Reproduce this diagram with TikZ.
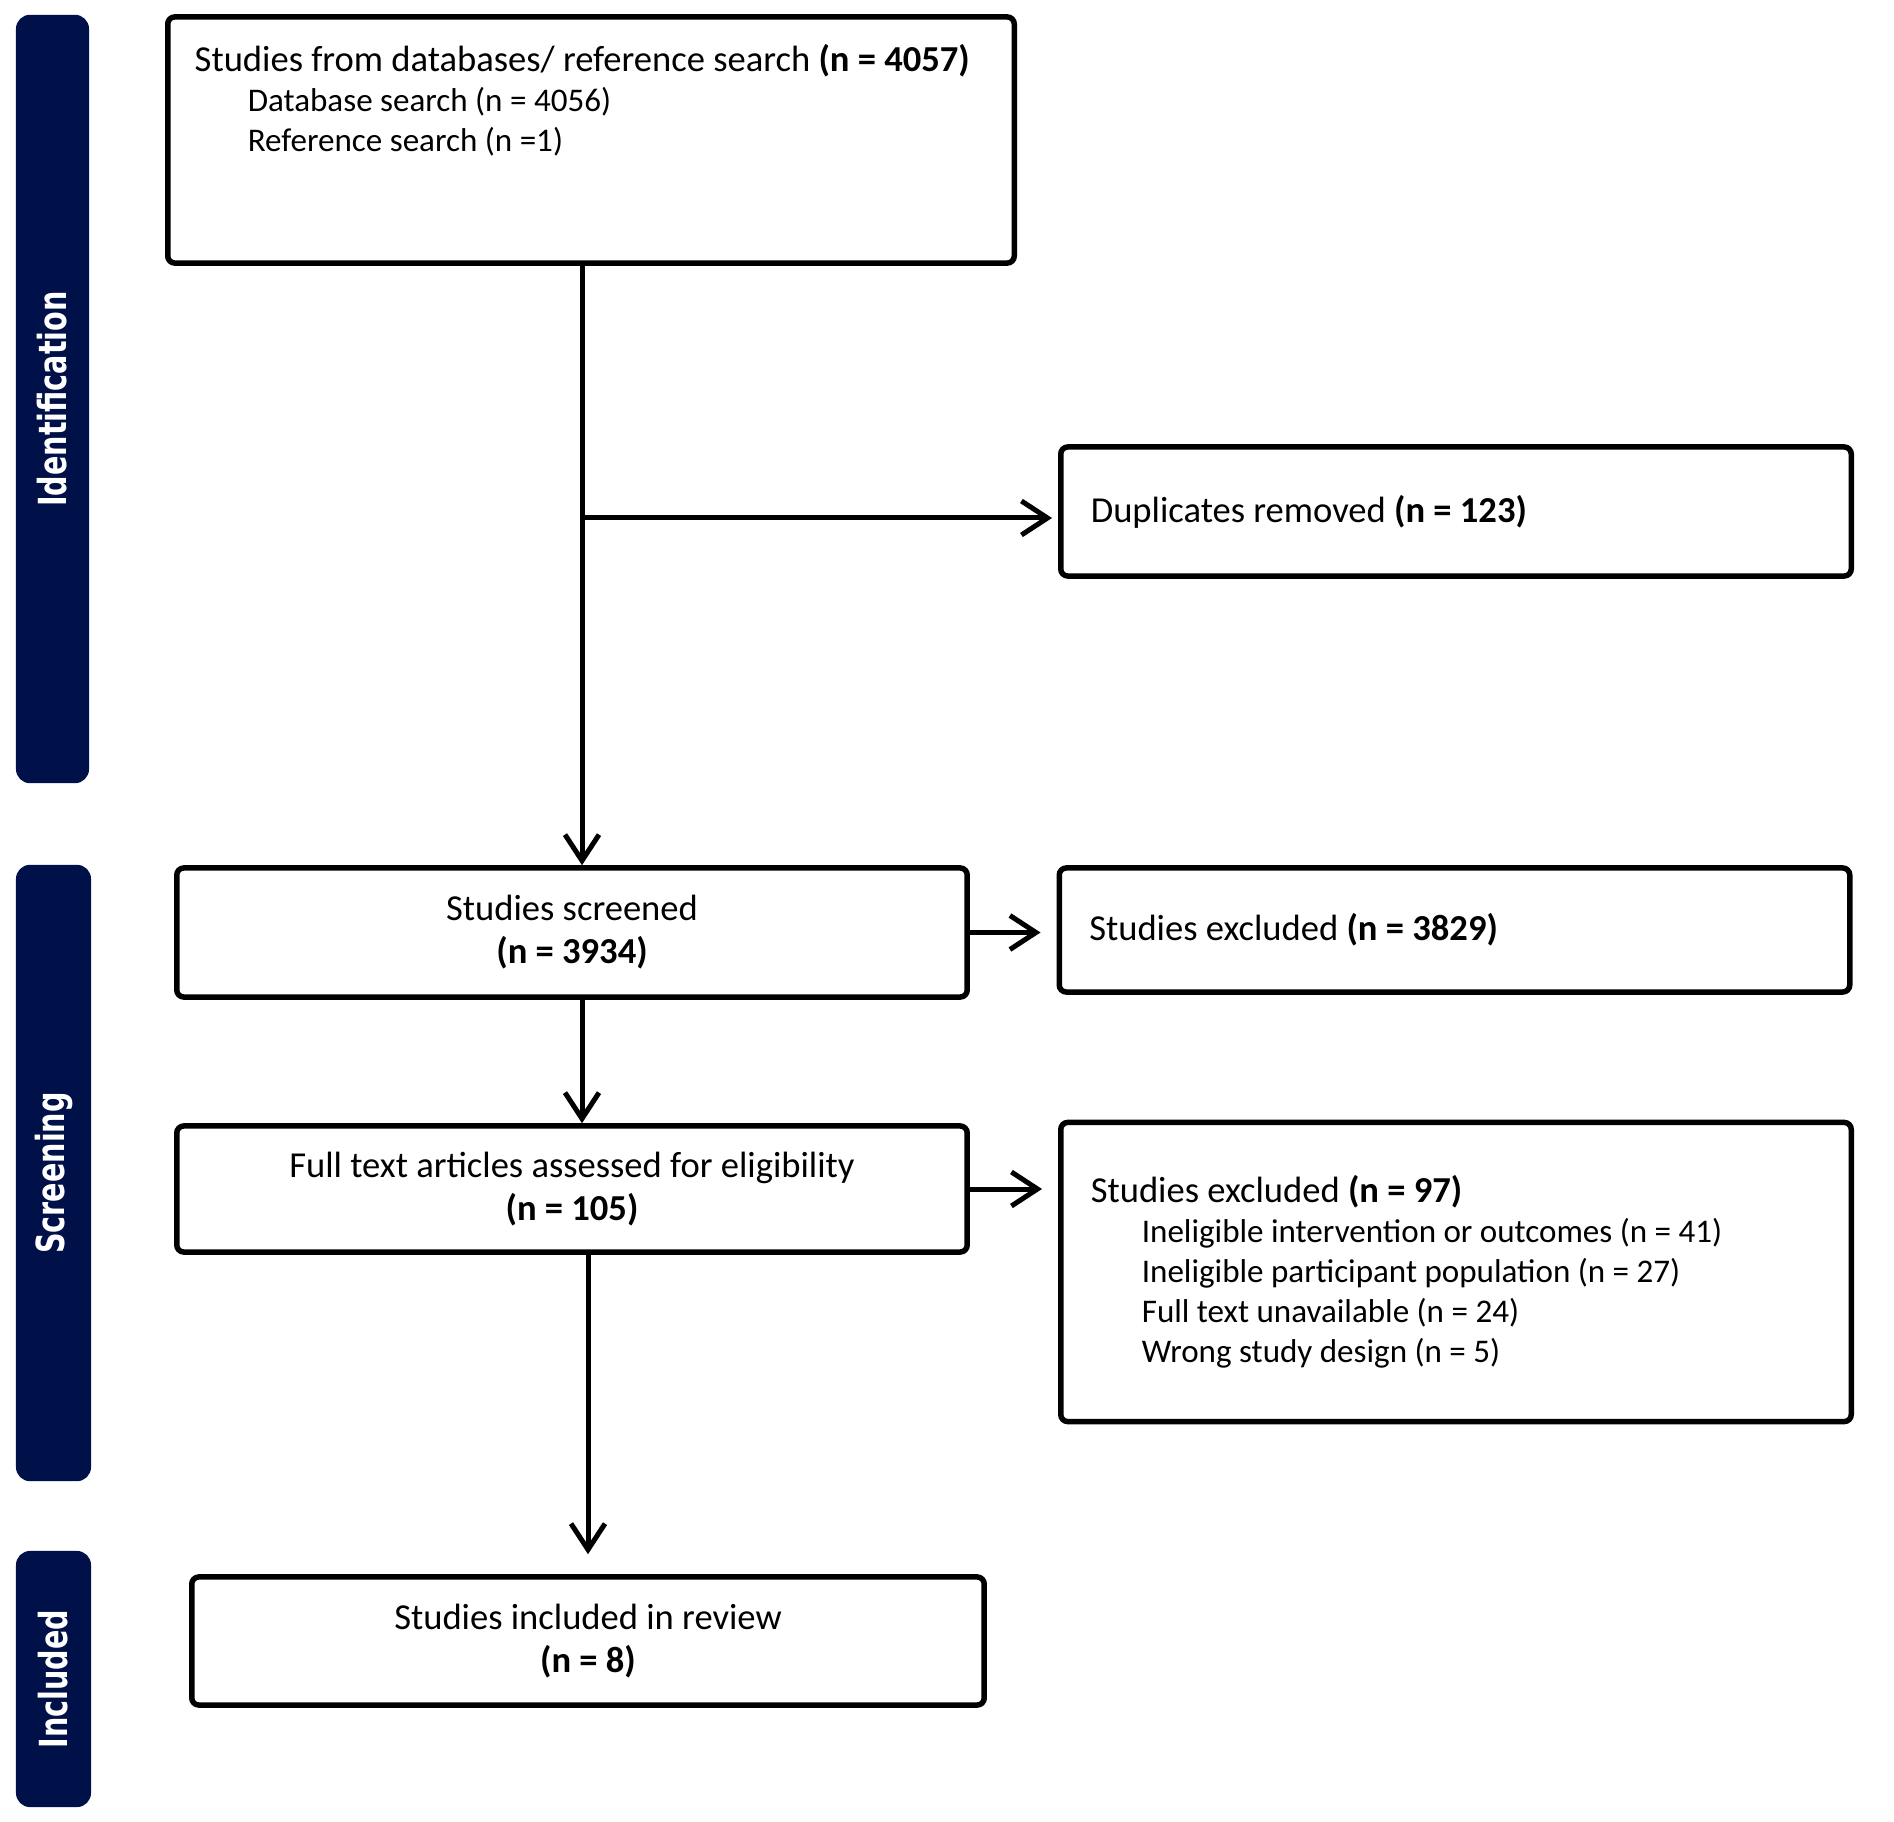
\documentclass[tikz,border=0pt]{standalone}
\usepackage{fontspec}
\setmainfont{Carlito}
\newfontfamily\barfont{DejaVu Sans}
\usepackage{tikz}
\usetikzlibrary{arrows.meta,positioning}
\definecolor{navyband}{RGB}{0,16,72}
\newcommand{\headfont}{\fontsize{10.4}{12}\selectfont}
\newcommand{\itemfont}{\fontsize{9.4}{11.4}\selectfont}

\begin{document}
\begin{tikzpicture}[x=0.01cm, y=-0.01cm,
    box/.style={rectangle, rounded corners=2pt, draw=black, line width=0.055cm,
                font=\fontsize{10.4}{12.2}\selectfont},
    mainbox/.style={box, minimum width=7.9cm, minimum height=1.28cm, align=center},
    sidebox/.style={box, minimum width=7.9cm, text width=7.3cm, inner xsep=0.3cm, align=flush left},
    band/.style={rectangle, rounded corners=4pt, fill=navyband, text=white, rotate=90,
                 font=\fontsize{11}{13}\barfont\bfseries},
    arrow/.style={-{Straight Barb[length=0.26cm, width=0.34cm]}, line width=0.05cm}
  ]
    \path[use as bounding box, fill=white] (0,0) rectangle (1894,1822);

    % phase bands on the left
    \node[band, minimum width=7.68cm, minimum height=0.73cm] (identband) at (52.5,399) {\scalebox{0.74}[1]{Identification}};
    \node[band, minimum width=6.16cm, minimum height=0.75cm] (screenband) at (53.5,1173) {\scalebox{0.74}[1]{Screening}};
    \node[band, minimum width=2.56cm, minimum height=0.75cm] (inclband) at (53.5,1679) {\scalebox{0.74}[1]{Included}};

    % main column
    \node[box, minimum width=8.46cm, minimum height=2.46cm] (search) at (591,140) {};
    \node[anchor=north west, inner sep=0pt, align=flush left, font=\itemfont]
      (searchtext) at ([xshift=0.29cm, yshift=-0.29cm]search.north west)
      {{\headfont Studies from databases/ reference search \textbf{(n = 4057)}}\\
       \hspace*{0.53cm}Database search (n = 4056)\\
       \hspace*{0.53cm}Reference search (n =1)};
    \node[mainbox, minimum height=1.29cm] (screened) at (572,932.5) {Studies screened\\\textbf{(n = 3934)}};
    \node[mainbox, minimum height=1.26cm] (fulltext) at (572,1189) {Full text articles assessed for eligibility\\\textbf{(n = 105)}};
    \node[mainbox, minimum width=7.92cm] (included) at (588,1641) {Studies included in review\\\textbf{(n = 8)}};

    % exclusion column
    \node[sidebox, minimum height=1.29cm] (dup) at (1456,511.5) {Duplicates removed \textbf{(n = 123)}};
    \node[sidebox, minimum height=1.24cm] (screenexcl) at (1454.5,930) {Studies excluded \textbf{(n = 3829)}};
    \node[sidebox, minimum height=2.99cm, font=\itemfont] (fullexcl) at (1456,1272)
      {{\headfont Studies excluded \textbf{(n = 97)}}\\
       \hspace*{0.51cm}Ineligible intervention or outcomes (n = 41)\\
       \hspace*{0.51cm}Ineligible participant population (n = 27)\\
       \hspace*{0.51cm}Full text unavailable (n = 24)\\
       \hspace*{0.51cm}Wrong study design (n = 5)};

    \coordinate (trunk) at (582,518);

    \draw[arrow] (search.south -| trunk) -- (screened.north -| trunk);
    \draw[arrow, shorten >=0.06cm] (trunk) -- (trunk -| dup.west);
    \draw[arrow, shorten >=0.16cm] (screened.east) -- (screened.east -| screenexcl.west);
    \draw[arrow] (screened.south -| trunk) -- (fulltext.north -| trunk);
    \draw[arrow, shorten >=0.16cm] (fulltext.east) -- (fulltext.east -| fullexcl.west);
    \draw[arrow, shorten >=0.2cm] (fulltext.south -| included.north) -- (included.north);
\end{tikzpicture}
\end{document}
